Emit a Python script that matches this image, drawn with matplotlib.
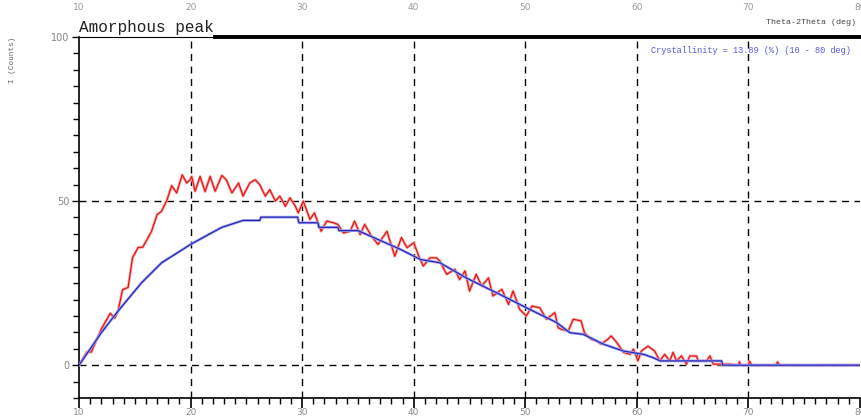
import matplotlib
matplotlib.use('Agg')
import matplotlib.pyplot as plt
from matplotlib.ticker import MultipleLocator

red_x = [10.0, 10.7, 11.1, 12.0, 12.8, 13.2, 13.5, 13.9, 14.4, 14.8, 15.3, 15.7, 16.1, 16.5,
         17.0, 17.4, 17.9, 18.3, 18.75, 19.25, 19.65, 19.95, 20.1, 20.4, 20.85, 21.3, 21.75,
         22.2, 22.8, 23.2, 23.7, 24.3, 24.7, 25.3, 25.8, 26.2, 26.7, 27.1, 27.6, 28.0, 28.5,
         28.9, 29.4, 29.65, 30.1, 30.7, 31.1, 31.7, 32.2, 32.8, 33.2, 33.7, 34.3, 34.7, 35.2,
         35.6, 36.2, 36.8, 37.6, 38.3, 38.9, 39.4, 40.0, 40.4, 40.85, 41.45, 42.05, 42.35,
         42.95, 43.7, 44.1, 44.6, 45.0, 45.6, 46.1, 46.7, 47.1, 47.9, 48.5, 48.9, 49.5, 50.1,
         50.6, 51.3, 51.9, 52.65, 52.95, 53.25, 53.85, 54.3, 55.0, 55.3, 55.9, 56.4, 56.8,
         57.4, 57.7, 58.2, 58.8, 59.4, 59.7, 60.1, 60.4, 61.0, 61.6, 62.05, 62.5, 62.95,
         63.25, 63.55, 64.0, 64.45, 64.75, 65.35, 65.5, 66.25, 66.55, 66.85, 68.3, 69.1,
         69.2, 69.3, 70.0, 70.1, 70.3, 72.5, 72.6, 72.8, 80.0]
red_y = [0.0, 4.0, 4.0, 11.0, 15.8, 14.3, 16.5, 23.0, 23.7, 32.8, 35.9, 35.9, 38.3, 40.8,
         45.9, 46.9, 50.5, 54.7, 52.5, 58.0, 55.5, 56.5, 57.5, 53.0, 57.5, 52.9, 57.5,
         53.0, 57.8, 56.5, 52.5, 55.5, 51.5, 55.5, 56.5, 55.0, 51.5, 53.5, 50.0, 51.5, 48.4,
         51.0, 48.4, 46.4, 50.0, 44.4, 46.4, 40.8, 43.9, 43.4, 42.9, 40.3, 40.8, 43.9, 39.8,
         42.9, 39.4, 36.8, 40.8, 33.2, 38.9, 35.8, 37.3, 33.7, 30.2, 32.7, 32.7, 31.7,
         27.7, 29.2, 26.1, 28.7, 22.6, 27.7, 24.1, 26.6, 21.1, 23.1, 18.5, 22.6, 17.0, 15.0,
         18.0, 17.5, 14.0, 16.0, 11.4, 10.9, 10.4, 14.0, 13.5, 9.9, 7.9, 7.4, 6.4,
         7.9, 8.9, 6.9, 3.9, 3.3, 4.9, 1.3, 4.3, 5.8, 4.3, 1.3, 3.3, 1.3,
         3.9, 1.3, 2.8, 0.3, 2.8, 2.8, 1.3, 1.3, 2.8, 0.3, 0.3, 0.0,
         1.0, 0.0, 0.0, 1.2, 0.0, 0.0, 1.0, 0.0, 0.0]

# fitted (blue) background
blue_x = [10.0, 12.0, 13.5, 15.6, 17.4, 20.0, 21.6, 22.8, 24.7, 26.2, 26.3, 29.6, 29.7,
          31.4, 31.5, 33.2, 33.3, 35.0, 35.6, 38.8, 40.6, 42.35, 44.7, 47.7, 50.1, 52.8,
          54.0, 55.2, 57.0, 58.8, 60.6, 61.45, 62.1, 67.6, 67.7, 80.0]
blue_y = [0.0, 9.9, 16.5, 25.1, 31.2, 36.8, 39.8, 42.0, 44.1, 44.1, 45.1, 45.1, 43.4,
          43.4, 42.0, 42.0, 41.0, 41.0, 40.1, 35.3, 32.2, 31.2, 26.6, 21.6, 17.5, 13.0,
          9.9, 9.4, 6.4, 4.3, 3.3, 2.3, 1.3, 1.3, 0.0, 0.0]

x_major = [10, 20, 30, 40, 50, 60, 70, 80]
y_major = [0, 50, 100]
crystallinity = 13.89

fig = plt.figure(figsize=(8.61, 4.2), dpi=100)
ax = fig.add_axes([0.0918, 0.0524, 0.907, 0.8595])
ax.set_xlim(10, 80)
ax.set_ylim(-10, 100)

# dashed grid
for gx in x_major[1:-1]:
    ax.axvline(gx, color='black', lw=1.0, dashes=(5, 4), zorder=1)
for gy in y_major[:-1]:
    ax.axhline(gy, color='black', lw=1.0, dashes=(5, 4), zorder=1)

ax.plot(red_x, red_y, color='#f5a0a0', lw=2.0, zorder=2)
ax.plot(red_x, red_y, color='#e01010', lw=0.8, zorder=3)
ax.plot(blue_x, blue_y, color='#a0a0f0', lw=2.0, zorder=4)
ax.plot(blue_x, blue_y, color='#2020b0', lw=0.8, zorder=5)

ax.spines['right'].set_visible(False)
ax.spines['top'].set_linewidth(0.8)
ax.spines['left'].set_linewidth(1.2)
ax.spines['bottom'].set_linewidth(1.2)
ax.axhline(100, xmin=0.174, xmax=1.0, color='black', lw=2.8, clip_on=False, zorder=6)

ax.set_xticks(x_major)
ax.xaxis.set_minor_locator(MultipleLocator(1))
ax.set_yticks(y_major)
ax.yaxis.set_minor_locator(MultipleLocator(5))
ax.tick_params(axis='x', which='major', direction='out', length=7, width=1.2,
               labelsize=6.5, labelcolor='#888888', pad=0.5)
ax.tick_params(axis='x', which='minor', direction='out', length=4.5, width=1.0)
ax.tick_params(axis='y', which='major', direction='out', length=5, width=1.0,
               labelsize=7, labelcolor='#888888', pad=2)
ax.tick_params(axis='y', which='minor', direction='out', length=4, width=1.0)
ax.tick_params(top=False, right=False, which='both')

top = ax.secondary_xaxis('top')
top.set_xticks(x_major)
top.tick_params(length=0, labelsize=6.5, labelcolor='#999999', pad=18)
top.spines['top'].set_visible(False)

fig.text(0.092, 1 - 32 / 420, 'Amorphous peak', family='Liberation Mono',
         fontsize=11.5, color='#222222', va='baseline', ha='left')
fig.text(0.994, 1 - 24 / 420, 'Theta-2Theta (deg)', family='Liberation Mono',
         fontsize=6, color='#444444', va='baseline', ha='right')
ax.text(0.988, 0.975, f'Crystallinity = {crystallinity:.2f} (%) (10 - 80 deg)',
        transform=ax.transAxes, family='Liberation Mono', fontsize=6.2,
        color='#5a5ae0', va='top', ha='right', zorder=7)
fig.text(0.014, 1 - 60 / 420, 'I (Counts)', family='Liberation Mono', fontsize=5.5,
         color='#666666', rotation=90, va='center', ha='center')

fig.savefig('out.png', dpi=100, facecolor='white')
